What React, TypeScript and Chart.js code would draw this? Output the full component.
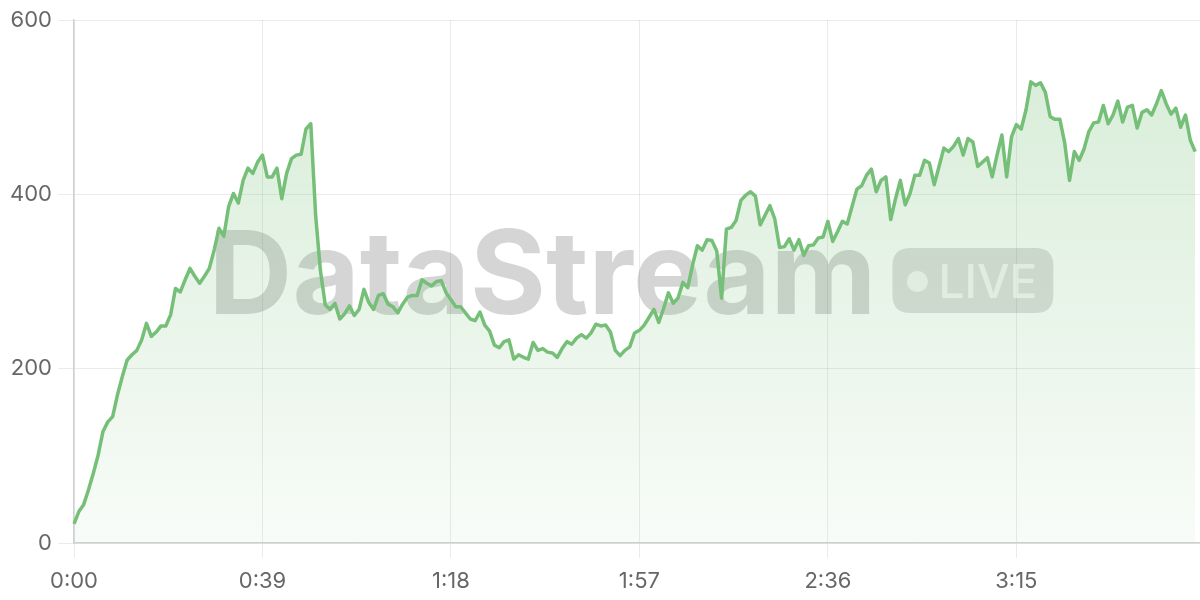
import React, { useEffect, useRef } from "react";
import { Chart, registerables } from "chart.js";

Chart.register(...registerables);

// Throughput samples, one per second (0:00 .. 3:52)
const VALUES: number[] = [
  22, 36, 44, 61, 80, 101, 128, 139, 145, 170,
  191, 210, 216, 221, 233, 252, 237, 242, 249, 249,
  262, 292, 288, 302, 315, 306, 298, 306, 315, 336,
  361, 352, 386, 401, 390, 416, 430, 424, 437, 445,
  420, 420, 430, 395, 424, 441, 445, 446, 475, 481,
  376, 312, 273, 268, 275, 257, 263, 272, 261, 268,
  291, 276, 268, 284, 286, 274, 271, 264, 274, 282,
  284, 284, 302, 298, 295, 300, 301, 287, 279, 271,
  271, 264, 257, 255, 265, 250, 243, 227, 224, 231,
  233, 211, 216, 213, 211, 230, 221, 223, 219, 218,
  213, 223, 231, 228, 235, 239, 235, 241, 251, 249,
  250, 242, 221, 215, 221, 225, 241, 244, 250, 259,
  268, 253, 269, 287, 275, 281, 299, 293, 319, 341,
  336, 348, 347, 335, 281, 360, 362, 370, 393, 399,
  403, 398, 365, 376, 387, 372, 339, 340, 349, 336,
  348, 330, 341, 342, 350, 351, 369, 346, 357, 369,
  366, 386, 406, 410, 422, 429, 403, 416, 420, 371,
  395, 416, 388, 401, 422, 422, 439, 436, 411, 432,
  453, 449, 455, 464, 445, 464, 460, 432, 437, 442,
  420, 445, 468, 420, 466, 480, 475, 497, 529, 525,
  528, 517, 489, 486, 486, 459, 416, 449, 439, 452,
  472, 482, 483, 502, 481, 491, 507, 483, 500, 502,
  476, 494, 497, 491, 504, 519, 504, 492, 499, 477,
  491, 462, 449,
];

// Time axis slots (seconds); the axis runs one slot past the last sample
const SLOT_COUNT = 234;
const TICK_LABELS = ["0:00", "0:39", "1:18", "1:57", "2:36", "3:15"];
const Y_MIN = 0;
const Y_MAX = 600;
const Y_STEP = 200;

const WATERMARK = "DataStream";
const BADGE = "LIVE";

function fmtTime(s: number): string {
  const m = Math.floor(s / 60);
  const r = s % 60;
  return m + ":" + (r < 10 ? "0" + r : String(r));
}

const CATEGORIES: string[] = Array.from({ length: SLOT_COUNT }, (_, i) => fmtTime(i));

const LINE_COLOR = "rgb(118, 191, 120)";
const TICK_COLOR = "#676767";
const GRID_COLOR = "rgba(0,0,0,0.08)";
const AXIS_COLOR = "#d0d0d0";
const FONT_FAMILY = "Inter, 'Noto Sans', sans-serif";

const watermarkPlugin = {
  id: "watermark",
  beforeDatasetsDraw(chart: any) {
    const { ctx, chartArea } = chart;
    if (!chartArea) return;
    const cx = (chartArea.left + chartArea.right) / 2;
    const cy = (chartArea.top + chartArea.bottom) / 2;
    ctx.save();
    ctx.font = `700 116px ${FONT_FAMILY}`;
    const tw = ctx.measureText(WATERMARK).width;
    const pillW = 161;
    const pillH = 65;
    const gap = 16;
    const total = tw + gap + pillW;
    const left = cx - total / 2 - 6;
    ctx.fillStyle = "rgba(0,0,0,0.165)";
    ctx.textBaseline = "alphabetic";
    ctx.textAlign = "left";
    ctx.fillText(WATERMARK, left, cy + 32);

    const px = left + tw + gap;
    const py = cy - pillH / 2 - 1;
    const r = 18;
    ctx.beginPath();
    ctx.moveTo(px + r, py);
    ctx.lineTo(px + pillW - r, py);
    ctx.quadraticCurveTo(px + pillW, py, px + pillW, py + r);
    ctx.lineTo(px + pillW, py + pillH - r);
    ctx.quadraticCurveTo(px + pillW, py + pillH, px + pillW - r, py + pillH);
    ctx.lineTo(px + r, py + pillH);
    ctx.quadraticCurveTo(px, py + pillH, px, py + pillH - r);
    ctx.lineTo(px, py + r);
    ctx.quadraticCurveTo(px, py, px + r, py);
    ctx.closePath();
    ctx.fillStyle = "rgba(0,0,0,0.13)";
    ctx.fill();

    ctx.fillStyle = "rgba(255,255,255,0.72)";
    ctx.beginPath();
    ctx.arc(px + 25, py + pillH / 2 + 1, 10.5, 0, Math.PI * 2);
    ctx.fill();
    ctx.font = `500 46px ${FONT_FAMILY}`;
    ctx.fillText(BADGE, px + 46, py + pillH / 2 + 17);
    ctx.restore();
  },
};

export default function App() {
  const canvasRef = useRef<HTMLCanvasElement | null>(null);

  useEffect(() => {
    document.body.style.margin = "0";
    const canvas = canvasRef.current;
    if (!canvas) return;
    const chart = new Chart(canvas, {
      type: "line",
      data: {
        labels: CATEGORIES,
        datasets: [
          {
            data: VALUES,
            borderColor: LINE_COLOR,
            borderWidth: 3.5,
            borderJoinStyle: "round",
            pointRadius: 0,
            pointHoverRadius: 0,
            tension: 0,
            fill: "origin",
            backgroundColor: (context: any) => {
              const area = context.chart.chartArea;
              if (!area) return "rgba(118,191,120,0.2)";
              const g = context.chart.ctx.createLinearGradient(0, area.top, 0, area.bottom);
              g.addColorStop(0, "rgba(118,191,120,0.30)");
              g.addColorStop(1, "rgba(118,191,120,0.05)");
              return g;
            },
          },
        ],
      },
      options: {
        animation: false,
        responsive: false,
        maintainAspectRatio: false,
        layout: { padding: { left: 8, top: 20, right: 0, bottom: 0 } },
        plugins: {
          legend: { display: false },
          tooltip: { enabled: false },
        },
        scales: {
          x: {
            type: "category",
            offset: false,
            grid: {
              display: true,
              color: GRID_COLOR,
              drawTicks: true,
              tickLength: 15,
              tickColor: GRID_COLOR,
            },
            border: { display: true, color: AXIS_COLOR, width: 1.5 },
            ticks: {
              autoSkip: false,
              maxRotation: 0,
              padding: 10,
              color: TICK_COLOR,
              font: { family: FONT_FAMILY, size: 22 },
              callback: function (this: any, _v: any, index: number) {
                const lbl = CATEGORIES[index];
                return TICK_LABELS.includes(lbl) ? lbl : null;
              },
            },
            afterFit: (scale: any) => {
              scale.height = 57;
            },
          },
          y: {
            min: Y_MIN,
            max: Y_MAX,
            grid: {
              color: GRID_COLOR,
              drawTicks: true,
              tickLength: 16,
              tickColor: GRID_COLOR,
            },
            border: { display: true, color: AXIS_COLOR, width: 1.5 },
            ticks: {
              stepSize: Y_STEP,
              padding: 6,
              color: TICK_COLOR,
              font: { family: FONT_FAMILY, size: 22 },
            },
            afterFit: (scale: any) => {
              scale.width = 66;
            },
          },
        },
      },
      plugins: [watermarkPlugin],
    });
    return () => chart.destroy();
  }, []);

  return (
    <div style={{ width: 1200, height: 600 }}>
      <canvas ref={canvasRef} width={1200} height={600} style={{ display: "block", width: 1200, height: 600 }} />
    </div>
  );
}
